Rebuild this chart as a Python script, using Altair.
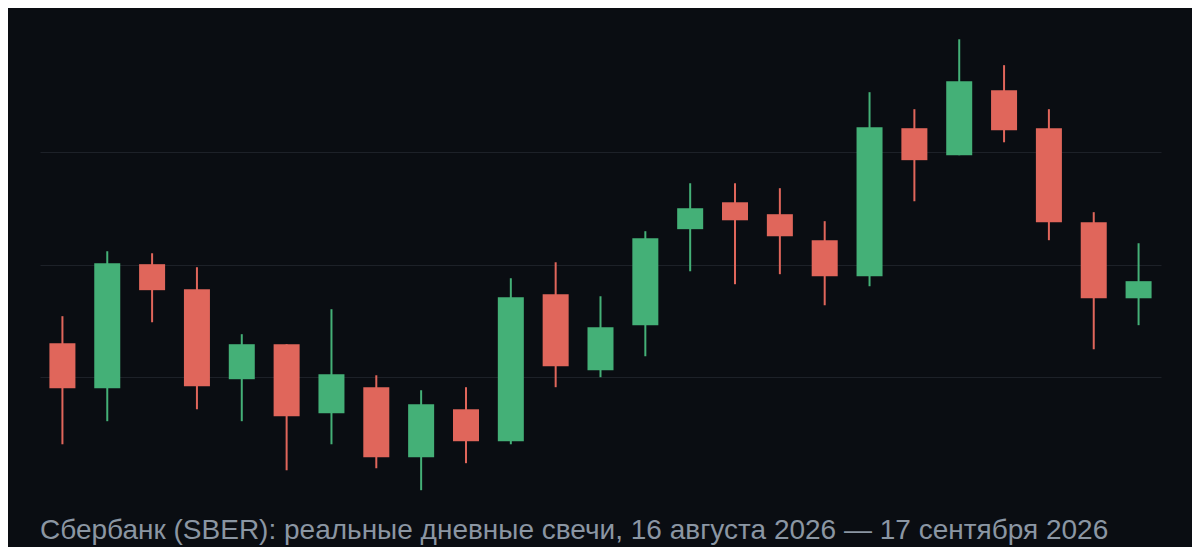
import altair as alt
import pandas as pd

dates = ["2026-08-16", "2026-08-17", "2026-08-18", "2026-08-19", "2026-08-20",
         "2026-08-21", "2026-08-24", "2026-08-25", "2026-08-26", "2026-08-27",
         "2026-08-28", "2026-08-31", "2026-09-01", "2026-09-02", "2026-09-03",
         "2026-09-04", "2026-09-07", "2026-09-08", "2026-09-09", "2026-09-10",
         "2026-09-11", "2026-09-14", "2026-09-15", "2026-09-16", "2026-09-17"]
open_ = [293.02, 289.02, 300.04, 297.81, 289.82, 292.93, 286.80, 289.11, 282.89, 287.15,
         284.31, 297.37, 290.62, 294.62, 303.15, 305.54, 304.48, 302.17, 298.97, 312.12,
         309.72, 315.49, 312.12, 303.77, 297.01]
close = [289.02, 300.12, 297.73, 289.20, 292.93, 286.53, 290.26, 282.89, 287.60, 284.31,
         297.10, 290.97, 294.44, 302.35, 305.01, 303.94, 302.52, 298.97, 312.21, 309.28,
         316.29, 311.94, 303.77, 297.01, 298.53]
high = [295.42, 301.19, 301.01, 299.77, 293.82, 292.93, 296.04, 290.17, 288.84, 289.11,
        298.79, 300.21, 297.19, 302.97, 307.23, 307.23, 306.79, 303.86, 315.32, 313.81,
        320.02, 317.72, 313.81, 304.66, 301.90]
low = [284.04, 286.09, 294.88, 287.15, 286.09, 281.73, 284.04, 281.91, 279.96, 282.36,
       284.04, 289.11, 290.00, 291.86, 299.41, 298.26, 299.15, 296.39, 298.08, 305.63,
       309.72, 310.87, 302.17, 292.48, 294.62]

df = pd.DataFrame({"date": dates, "open": open_, "close": close, "high": high, "low": low})
df["dir"] = ["up" if c >= o else "down" for o, c in zip(open_, close)]

BG = "#0a0d12"
GREEN = "#44b077"
RED = "#e0665b"

x = alt.X("date:O", axis=None,
          scale=alt.Scale(paddingInner=0.42, paddingOuter=0.21))
y_scale = alt.Scale(domain=[279, 322], nice=False, zero=False)
color = alt.Color("dir:N", scale=alt.Scale(domain=["up", "down"], range=[GREEN, RED]), legend=None)

base = alt.Chart(df)

wicks = base.mark_rule(strokeWidth=2).encode(
    x=x,
    y=alt.Y("low:Q", scale=y_scale,
            axis=alt.Axis(values=[290, 300, 310], labels=False, ticks=False, domain=False,
                          title=None, grid=True, gridColor="#1d2128", gridWidth=1)),
    y2="high:Q",
    color=color,
)

bodies = base.mark_bar().encode(
    x=x,
    y=alt.Y("open:Q", scale=y_scale),
    y2="close:Q",
    color=color,
)

chart = alt.layer(wicks, bodies).properties(
    width=1121,
    height=484,
    background=BG,
    padding={"left": 32, "top": 9, "right": 31, "bottom": 2},
    title=alt.TitleParams(
        text="Сбербанк (SBER): реальные дневные свечи, 16 августа 2026 — 17 сентября 2026",
        orient="bottom", anchor="start", font="Liberation Sans", fontSize=28,
        fontWeight="normal", color="#8b96a3", offset=16,
    ),
).configure_view(stroke=None)

chart.save("out.html", embed_options={"renderer": "svg", "actions": False})
